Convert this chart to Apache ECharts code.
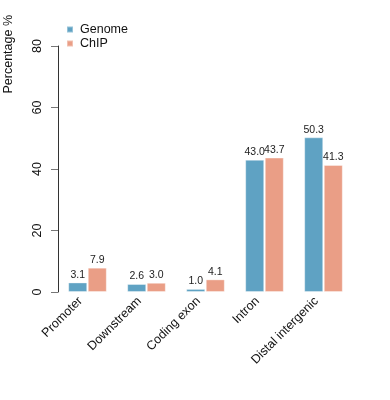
<!DOCTYPE html>
<html><head><meta charset="utf-8">
<script src="https://cdn.jsdelivr.net/npm/echarts@6/dist/echarts.min.js"></script>
<style>html,body{margin:0;padding:0;background:#fff}#c{width:390px;height:400px}</style>
</head><body><div id="c"></div>
<script>
var categories = ["Promoter", "Downstream", "Coding exon", "Intron", "Distal intergenic"];
var genome = [3.1, 2.6, 1.0, 43.0, 50.3];
var chip = [7.9, 3.0, 4.1, 43.7, 41.3];
var yTicks = [0, 20, 40, 60, 80];

var font = "Liberation Sans, Arial, sans-serif";
var chart = echarts.init(document.getElementById('c'), null, {renderer: 'canvas'});
function lbl(){ return {show: true, position: 'top', distance: 2, color: '#222', fontSize: 10.5, fontFamily: font,
  formatter: function(p){ return p.value.toFixed(1); }}; }
chart.setOption({
  animation: false,
  backgroundColor: '#fff',
  legend: {
    orient: 'vertical', left: 66, top: 23, itemWidth: 6, itemHeight: 6, itemGap: 1,
    icon: 'rect', padding: 0,
    textStyle: {fontFamily: font, fontSize: 12.5, color: '#111', padding: [0,0,0,2]},
    data: ['Genome', 'ChIP']
  },
  graphic: [{type: 'text', left: 2, top: 15, rotation: Math.PI/2,
    style: {text: 'Percentage %', fontFamily: font, fontSize: 12.5, fill: '#111'}}],
  grid: {left: 58, right: 37, top: 46, bottom: 108, containLabel: false},
  xAxis: {
    type: 'category', data: categories,
    axisLine: {show: false}, axisTick: {show: false},
    axisLabel: {rotate: 45, interval: 0, margin: 0, padding: [0, 10, 0, 0], fontFamily: font, fontSize: 12.5, color: '#111'}
  },
  yAxis: {
    type: 'value', min: 0, max: 80, interval: 20,
    axisLine: {show: true, lineStyle: {color: '#333', width: 1}},
    axisTick: {show: true, length: 7, lineStyle: {color: '#777'}},
    splitLine: {show: false},
    axisLabel: {rotate: 90, margin: 14, fontFamily: font, fontSize: 12.5, color: '#111',
      formatter: function(v){ return yTicks.indexOf(v) >= 0 ? String(v) : ''; }}
  },
  series: [
    {name: 'Genome', type: 'bar', data: genome, barWidth: 19, barGap: '3%',
     itemStyle: {color: '#5fa2c3', borderColor: 'rgba(255,255,255,0.35)', borderWidth: 1}, label: lbl()},
    {name: 'ChIP', type: 'bar', data: chip, barWidth: 19,
     itemStyle: {color: '#ea9e86', borderColor: 'rgba(255,255,255,0.35)', borderWidth: 1}, label: lbl()}
  ]
});
</script></body></html>
